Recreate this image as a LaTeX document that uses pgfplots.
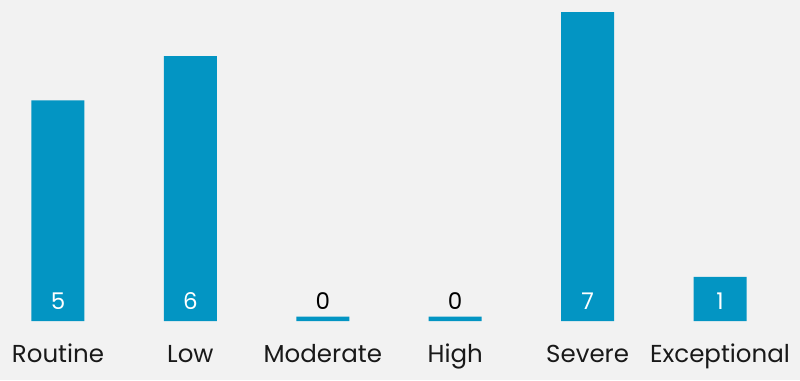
\documentclass[border=0pt]{standalone}
\usepackage{pgfplots}
\usepackage{pgfplotstable}
\pgfplotsset{compat=1.18}
\usepackage{fontspec}
\setmainfont{Poppins}
\definecolor{bg}{HTML}{F2F2F2}
\definecolor{barblue}{HTML}{0395C3}
\pgfplotstableread{
x val h lab
0 5 5 5
1 6 6 6
2 0 0.1 0
3 0 0.1 0
4 7 7 7
5 1 1 1
}\data
\pgfplotstableread{
x lab
0 5
1 6
4 7
5 1
}\inlab
\pgfplotstableread{
x lab
2 0
3 0
}\zerolab
\begin{document}
\begin{tikzpicture}[x=1pt,y=1pt]
\fill[bg] (0,0) rectangle (800,380);
\useasboundingbox (0,0) rectangle (800,380);
\begin{axis}[
  at={(0pt,59pt)}, anchor=south west,
  scale only axis, width=800pt, height=321pt,
  xmin=-0.438, xmax=5.604, ymin=0, ymax=7.272,
  axis line style={draw=none}, tick style={draw=none},
  ytick=\empty,
  xtick={0,1,2,3,4,5},
  xticklabels={Routine,Low,Moderate,High,Severe,Exceptional},
  xticklabel style={anchor=base, yshift=-41pt, font=\fontsize{24.5}{28}\selectfont, text=black!90},
  clip=false,
]
\addplot[ybar, bar width=53pt, fill=barblue, draw=none] table[x=x, y=h] {\data};
\addplot[draw=none, mark=none, nodes near coords, point meta=explicit symbolic,
  nodes near coords style={anchor=base, yshift=12pt, text=white, font=\fontsize{23}{27}\selectfont}]
  table[x=x, y expr=0, meta=lab] {\inlab};
\addplot[draw=none, mark=none, nodes near coords, point meta=explicit symbolic,
  nodes near coords style={anchor=base, yshift=12pt, text=black, font=\fontsize{23}{27}\selectfont}]
  table[x=x, y expr=0, meta=lab] {\zerolab};
\end{axis}
\end{tikzpicture}
\end{document}
